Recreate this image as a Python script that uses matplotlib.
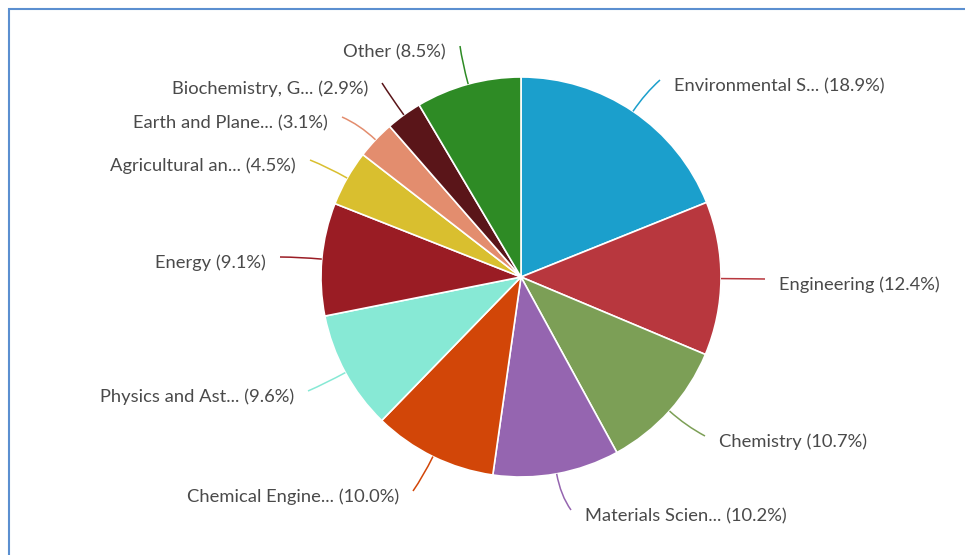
import matplotlib.pyplot as plt
import numpy as np
from matplotlib.path import Path
from matplotlib.patches import PathPatch, Rectangle

# data
labels = ["Environmental S...", "Engineering", "Chemistry", "Materials Scien...",
          "Chemical Engine...", "Physics and Ast...", "Energy", "Agricultural an...",
          "Earth and Plane...", "Biochemistry, G...", "Other"]
shares = [18.9, 12.4, 10.7, 10.2, 10.0, 9.6, 9.1, 4.5, 3.1, 2.9, 8.5]
colors = ["#1b9fcc", "#b8373e", "#7c9f56", "#9565b0", "#d24608", "#87e9d5",
          "#9a1c24", "#d9bf2f", "#e38d6e", "#5a1519", "#2e8b25"]

# layout (pixels, y from top): where each connector ends
label_xy = [(660, 80), (765, 279), (705, 436), (571, 510), (413, 491), (308, 391),
            (280, 257), (310, 160), (342, 117), (382, 83), (460, 46)]

W, H = 965, 555
cx, cy, R = 521, 277, 200

plt.rcParams['font.family'] = ['Lato', 'DejaVu Sans']
fig = plt.figure(figsize=(W / 100, H / 100), dpi=100)
ax = fig.add_axes([0, 0, 1, 1])

wedges, _ = ax.pie(shares, colors=colors, startangle=90, counterclock=False,
                   center=(cx, H - cy), radius=R,
                   wedgeprops=dict(edgecolor="white", linewidth=1.2))
ax.set_xlim(0, W)
ax.set_ylim(0, H)
ax.set_aspect('equal')
ax.axis('off')

# frame (only left and top visible)
ax.add_patch(Rectangle((8.5, -20), W + 20, H - 9 + 20, fill=False,
                       edgecolor="#5b8fd0", lw=1.5))

total = sum(shares)
cum = 0
for lab, val, col, (lx, ly) in zip(labels, shares, colors, label_xy):
    mid = (cum + val / 2) / total * 2 * np.pi
    cum += val
    dx, dy = np.sin(mid), np.cos(mid)
    p0 = (cx + R * dx, H - (cy - R * dy))
    p1 = (cx + (R + 22) * dx, H - (cy - (R + 22) * dy))
    p2 = (lx, H - ly)
    path = Path([p0, p1, p2], [Path.MOVETO, Path.CURVE3, Path.CURVE3])
    ax.add_patch(PathPatch(path, fill=False, edgecolor=col, lw=1.1))
    right = dx >= 0
    tx = lx + (14 if right else -14)
    ax.text(tx, H - ly - 6, f"{lab} ({val:.1f}%)", ha='left' if right else 'right',
            va='center', fontsize=13.2, color="#4a4a4a")

fig.savefig("out.png", dpi=100)
